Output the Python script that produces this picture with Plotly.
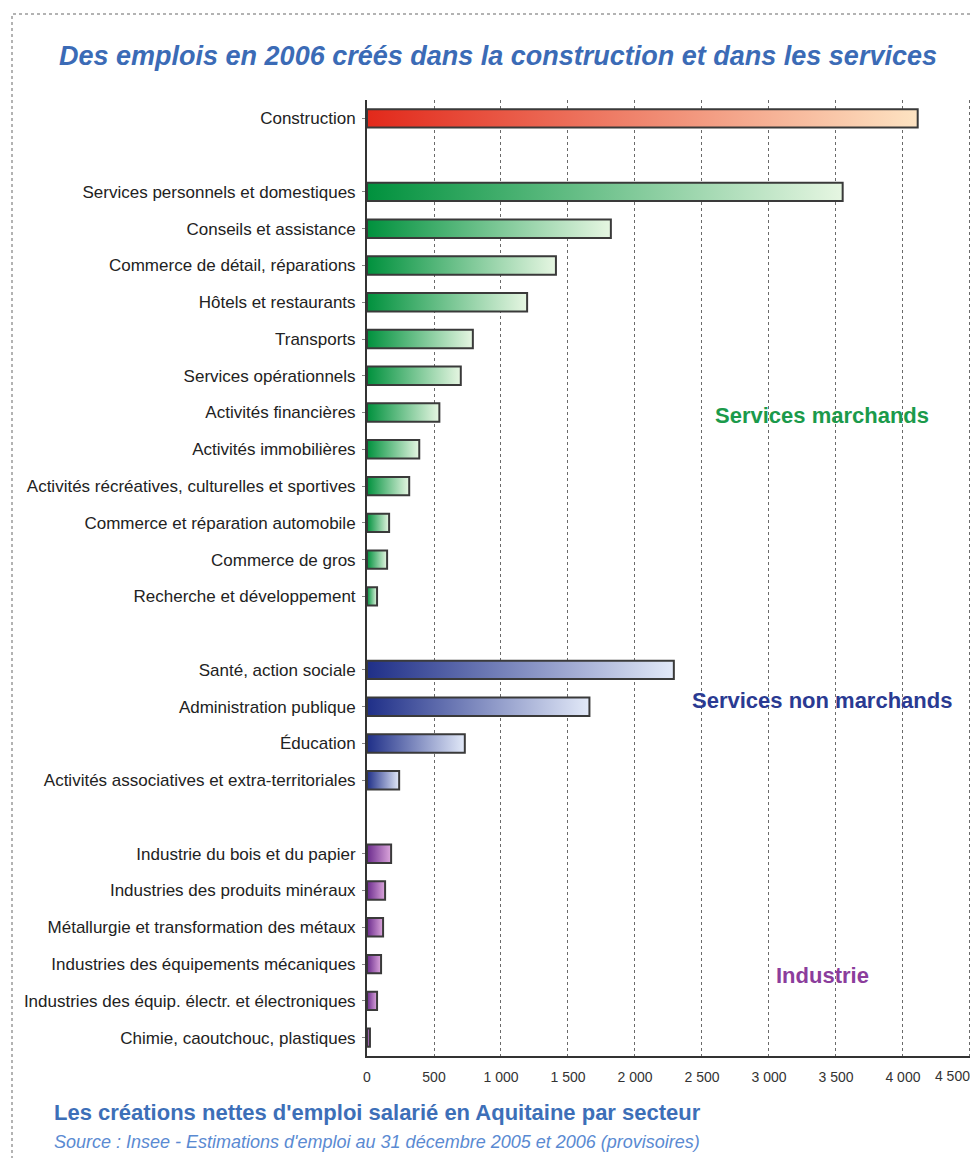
import plotly.graph_objects as go

# page has an 8px body margin: figure coordinates = window coordinates - 8
OFF = 8
W, H = 978 - OFF, 1158 - OFF

# ---- data ----
construction_labels = ["Construction"]
construction_values = [4110]

marchands_labels = [
    "Services personnels et domestiques",
    "Conseils et assistance",
    "Commerce de détail, réparations",
    "Hôtels et restaurants",
    "Transports",
    "Services opérationnels",
    "Activités financières",
    "Activités immobilières",
    "Activités récréatives, culturelles et sportives",
    "Commerce et réparation automobile",
    "Commerce de gros",
    "Recherche et développement",
]
marchands_values = [3550, 1820, 1410, 1195, 790, 700, 540, 390, 315, 165, 150, 75]

non_marchands_labels = [
    "Santé, action sociale",
    "Administration publique",
    "Éducation",
    "Activités associatives et extra-territoriales",
]
non_marchands_values = [2290, 1660, 730, 240]

industrie_labels = [
    "Industrie du bois et du papier",
    "Industries des produits minéraux",
    "Métallurgie et transformation des métaux",
    "Industries des équipements mécaniques",
    "Industries des équip. électr. et électroniques",
    "Chimie, caoutchouc, plastiques",
]
industrie_values = [180, 135, 120, 105, 75, 22]

x_tick_values = [0, 500, 1000, 1500, 2000, 2500, 3000, 3500, 4000, 4500]
x_tick_labels = ["0", "500", "1 000", "1 500", "2 000", "2 500", "3 000", "3 500", "4 000", "4 500"]

groups = [
    (construction_labels, construction_values, "#e2291b", "#fde3c2", None),
    (marchands_labels, marchands_values, "#00913d", "#e6f6e2", ("Services marchands", "#1b9a4b")),
    (non_marchands_labels, non_marchands_values, "#1f2f88", "#e2e9f8", ("Services non marchands", "#2a3a92")),
    (industrie_labels, industrie_values, "#6a2a8c", "#dca6dc", ("Industrie", "#8b3d9c")),
]

# ---- layout geometry (window pixels) ----
PLOT_LEFT, PLOT_TOP, PLOT_BOTTOM = 367, 100, 1056
L = PLOT_LEFT - OFF
T = PLOT_TOP - OFF
B = H - (PLOT_BOTTOM - OFF)
R = 0
plot_w = W - L - R
plot_h = H - T - B
X_RANGE = [0, 4560]


def px_x(px):
    return (px - OFF - L) / plot_w


def px_y(py):
    return (H - B - (py - OFF)) / plot_h


fig = go.Figure()

tickvals, ticktext = [], []
slot = 0
half = 0.25
for labels, values, c0, c1, ann in groups:
    for lab, v in zip(labels, values):
        fig.add_trace(go.Scatter(
            x=[0, v, v, 0, 0],
            y=[slot - half, slot - half, slot + half, slot + half, slot - half],
            mode="lines",
            fill="toself",
            fillgradient=dict(type="horizontal", colorscale=[[0, c0], [1, c1]]),
            line=dict(color="#3a3a3a", width=2),
            name=lab,
            hoverinfo="skip",
            showlegend=False,
        ))
        tickvals.append(slot)
        ticktext.append(lab)
        slot += 1
    slot += 1  # gap between groups

last_slot = tickvals[-1]

tick_font = dict(family="Liberation Sans, Arial, sans-serif", size=14, color="#333")

fig.update_layout(
    width=W, height=H,
    margin=dict(l=L, r=R, t=T, b=B, autoexpand=False),
    plot_bgcolor="white", paper_bgcolor="white",
    showlegend=False,
    title=dict(
        text="Des emplois en 2006 créés dans la construction et dans les services",
        font=dict(family="Liberation Sans, Arial, sans-serif", size=27, color="#3b6bb6",
                  weight="bold", style="italic"),
        xref="container", yref="container",
        x=(498 - OFF) / W, y=1 - (56 - OFF) / H, xanchor="center", yanchor="middle",
    ),
    xaxis=dict(
        range=X_RANGE,
        tickvals=x_tick_values, ticktext=x_tick_labels[:-1] + [""],
        tickfont=tick_font,
        showgrid=True, gridcolor="#6a6a6a", griddash="dot", gridwidth=1,
        zeroline=False,
        showline=True, linecolor="#333", linewidth=2,
        ticks="", ticklabelstandoff=7,
        automargin=False,
        fixedrange=True,
    ),
    # last tick label placed left of its gridline so that it stays inside the picture
    xaxis2=dict(
        overlaying="x", side="bottom", anchor="y",
        range=X_RANGE,
        tickvals=x_tick_values[-1:], ticktext=x_tick_labels[-1:],
        tickfont=tick_font,
        showgrid=False, zeroline=False, showline=False,
        ticks="", ticklabelposition="outside left", ticklabelstandoff=10,
        automargin=False,
        fixedrange=True,
    ),
    yaxis=dict(
        range=[last_slot + 0.5, -0.5],
        tickvals=tickvals, ticktext=ticktext,
        tickfont=dict(family="Liberation Sans, Arial, sans-serif", size=17, color="#222"),
        showgrid=False, zeroline=False,
        showline=True, linecolor="#333", linewidth=2,
        ticks="outside", ticklen=3, tickcolor="#888",
        ticklabelstandoff=3,
        automargin=False,
        fixedrange=True,
    ),
)

# invisible trace to activate the overlaying axis
fig.add_trace(go.Scatter(x=[X_RANGE[0]], y=[-0.5], xaxis="x2", yaxis="y",
                         mode="markers", marker=dict(opacity=0), hoverinfo="skip", showlegend=False))

# group labels
ann_pos = {"Services marchands": (822, 415), "Services non marchands": (822, 700), "Industrie": (822, 975)}
for labels, values, c0, c1, ann in groups:
    if ann is None:
        continue
    text, col = ann
    ax, ay = ann_pos[text]
    fig.add_annotation(
        text=f"<b>{text}</b>", xref="paper", yref="paper",
        x=px_x(ax), y=px_y(ay), xanchor="center", yanchor="middle", showarrow=False,
        font=dict(family="Liberation Sans, Arial, sans-serif", size=22, color=col),
    )

# footer
fig.add_annotation(
    text="<b>Les créations nettes d'emploi salarié en Aquitaine par secteur</b>",
    xref="paper", yref="paper", x=px_x(52), y=px_y(1112),
    xanchor="left", yanchor="middle", showarrow=False,
    font=dict(family="Liberation Sans, Arial, sans-serif", size=22, color="#3d6fb8"),
)
fig.add_annotation(
    text="<i>Source : Insee - Estimations d'emploi au 31 décembre 2005 et 2006 (provisoires)</i>",
    xref="paper", yref="paper", x=px_x(52), y=px_y(1142),
    xanchor="left", yanchor="middle", showarrow=False,
    font=dict(family="Liberation Sans, Arial, sans-serif", size=18, color="#5a8ad2"),
)

# dotted frame
fig.add_shape(
    type="rect", xref="paper", yref="paper",
    x0=px_x(12), x1=px_x(1000), y0=px_y(1180), y1=px_y(14),
    line=dict(color="#9a9a9a", width=1.5, dash="dot"), layer="below",
)

fig.write_html("out.html")
